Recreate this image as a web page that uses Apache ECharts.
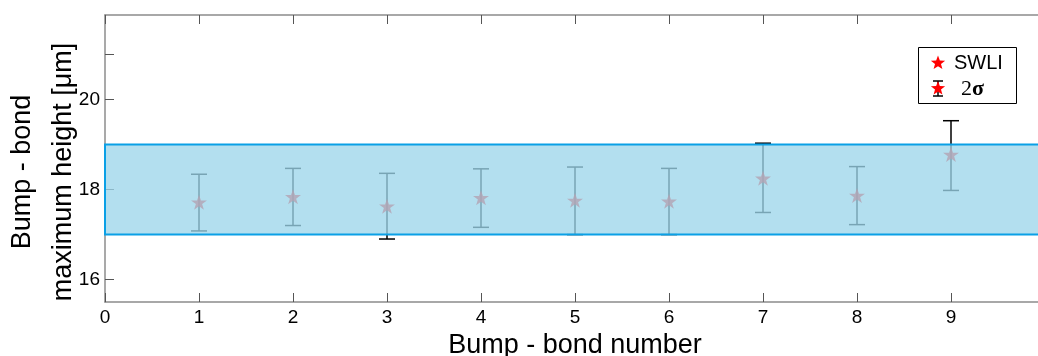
<!DOCTYPE html>
<html>
<head>
<meta charset="utf-8">
<script src="https://cdn.jsdelivr.net/npm/echarts@6/dist/echarts.min.js"></script>
<style>
  html, body { margin: 0; padding: 0; background: #fff; }
  #chart { width: 1038px; height: 356px; }
</style>
</head>
<body>
<div id="chart"></div>
<script>
// bump-bond number, measured height (SWLI) and 2 sigma range
const bumps = [1, 2, 3, 4, 5, 6, 7, 8, 9];
const heights = [17.72, 17.84, 17.63, 17.82, 17.76, 17.74, 18.25, 17.87, 18.78];
const lowErr = [17.08, 17.2, 16.9, 17.16, 17.0, 17.0, 17.49, 17.22, 17.98];
const highErr = [18.34, 18.47, 18.36, 18.46, 18.5, 18.47, 19.03, 18.51, 19.53];
// tolerance band
const bandLow = 17;
const bandHigh = 19;
const yLabelValues = [16, 18, 20];
const yMajorTicks = [16, 17, 18, 19, 20, 21];
const yMinorTicks = [15.5, 16.5, 17.5, 18.5, 19.5, 20.5, 21.5];

const STAR = "path://M50,0 L61.8,35.1 L98.1,35.1 L68.8,56.7 L79.4,90.5 L50,69.5 L20.6,90.5 L31.2,56.7 L1.9,35.1 L38.2,35.1 Z";
const axisGray = "#8c8c8c";
const tickGray = "#555";
const font = "Liberation Sans, Arial, sans-serif";

function starPoints(cx, cy, r) {
  const pts = [];
  for (let i = 0; i < 10; i++) {
    const rr = i % 2 === 0 ? r : r * 0.42;
    const a = -Math.PI / 2 + i * Math.PI / 5;
    pts.push([cx + rr * Math.cos(a), cy + rr * Math.sin(a)]);
  }
  return pts;
}

const chart = echarts.init(document.getElementById("chart"));

const xBase = {
  type: "value",
  min: 0,
  max: 10,
  interval: 1,
  splitLine: { show: false },
  axisLine: { show: true, onZero: false, lineStyle: { color: axisGray, width: 1.5 } },
  axisTick: { show: true, inside: true, length: 9, lineStyle: { color: tickGray, width: 1 } },
};

const yBase = {
  type: "value",
  min: 15.5,
  max: 21.88,
  splitLine: { show: false },
};

const option = {
  animation: false,
  backgroundColor: "#fff",
  grid: { left: 105, right: -7, top: 15, bottom: 54, outerBoundsMode: "none", containLabel: false },
  xAxis: [
    Object.assign({}, xBase, {
      position: "bottom",
      axisLabel: { margin: 6, fontSize: 19, color: "#000", fontFamily: font, showMaxLabel: false },
      name: "Bump - bond number",
      nameLocation: "middle",
      nameGap: 24,
      nameTextStyle: { fontSize: 27, color: "#000", fontFamily: font },
    }),
    Object.assign({}, xBase, {
      position: "top",
      axisLabel: { show: false },
    }),
  ],
  yAxis: [
    Object.assign({}, yBase, {
      position: "left",
      axisLine: { show: true, onZero: false, lineStyle: { color: axisGray, width: 1.5 } },
      axisTick: { show: true, inside: true, length: 9, customValues: yMajorTicks, lineStyle: { color: tickGray, width: 1 } },
      axisLabel: { margin: 5, fontSize: 19, color: "#000", fontFamily: font, customValues: yLabelValues },
    }),
    // half-unit ticks: a right axis moved back onto the left edge, ticks pointing into the plot
    Object.assign({}, yBase, {
      position: "right",
      offset: -940,
      axisLine: { show: false },
      axisTick: { show: true, inside: false, length: 5, customValues: yMinorTicks, lineStyle: { color: tickGray, width: 1 } },
      axisLabel: { show: false },
    }),
  ],
  series: [
    {
      name: "SWLI",
      type: "scatter",
      z: 2,
      symbol: STAR,
      symbolSize: [16, 15],
      itemStyle: { color: "#ff0000" },
      data: bumps.map((b, i) => [b, heights[i]]),
    },
    {
      name: "2σ",
      type: "custom",
      z: 2,
      data: bumps.map((b, i) => [b, lowErr[i], highErr[i]]),
      renderItem: function (params, api) {
        const lo = api.coord([api.value(0), api.value(1)]);
        const hi = api.coord([api.value(0), api.value(2)]);
        const w = 8;
        const st = { stroke: "#000", lineWidth: 1.5 };
        return {
          type: "group",
          children: [
            { type: "line", shape: { x1: lo[0], y1: lo[1], x2: hi[0], y2: hi[1] }, style: st },
            { type: "line", shape: { x1: lo[0] - w, y1: lo[1], x2: lo[0] + w, y2: lo[1] }, style: st },
            { type: "line", shape: { x1: hi[0] - w, y1: hi[1], x2: hi[0] + w, y2: hi[1] }, style: st },
          ],
        };
      },
    },
    {
      name: "band",
      type: "custom",
      z: 5,
      silent: true,
      data: [[bandLow, bandHigh]],
      renderItem: function (params, api) {
        const tl = api.coord([0, api.value(1)]);
        const br = api.coord([10, api.value(0)]);
        return {
          type: "rect",
          shape: { x: tl[0], y: tl[1], width: br[0] - tl[0], height: br[1] - tl[1] },
          style: { fill: "rgba(156,214,234,0.77)", stroke: "#0aa0e6", lineWidth: 2 },
        };
      },
    },
  ],
  graphic: [
    {
      type: "text",
      x: 43,
      y: 172,
      rotation: Math.PI / 2,
      z: 100,
      style: {
        text: "Bump - bond\nmaximum height [μm]",
        align: "center",
        verticalAlign: "middle",
        lineHeight: 41,
        fontSize: 27,
        fontFamily: font,
        fill: "#000",
      },
    },
    {
      type: "group",
      z: 100,
      children: [
        { type: "rect", shape: { x: 918.5, y: 47.5, width: 98, height: 56 }, style: { fill: "#fff", stroke: "#000", lineWidth: 1 } },
        { type: "polygon", shape: { points: starPoints(938, 63, 7.5) }, style: { fill: "#ff0000" } },
        { type: "text", x: 954, y: 63, style: { text: "SWLI", fontSize: 20, fontFamily: font, fill: "#000", verticalAlign: "middle" } },
        { type: "line", shape: { x1: 938, y1: 81, x2: 938, y2: 96 }, style: { stroke: "#000", lineWidth: 1.5 } },
        { type: "line", shape: { x1: 933, y1: 81, x2: 943, y2: 81 }, style: { stroke: "#000", lineWidth: 1.5 } },
        { type: "line", shape: { x1: 933, y1: 96, x2: 943, y2: 96 }, style: { stroke: "#000", lineWidth: 1.5 } },
        { type: "polygon", shape: { points: starPoints(938, 88.5, 7.5) }, style: { fill: "#ff0000" } },
        {
          type: "text", x: 961, y: 89,
          style: {
            text: "{a|2}{b|σ}",
            verticalAlign: "middle",
            rich: {
              a: { fontSize: 22, fontFamily: "Liberation Serif, serif", fill: "#000" },
              b: { fontSize: 22, fontWeight: "bold", fontFamily: "Liberation Serif, serif", fill: "#000" },
            },
          },
        },
      ],
    },
  ],
};

chart.setOption(option);
</script>
</body>
</html>
